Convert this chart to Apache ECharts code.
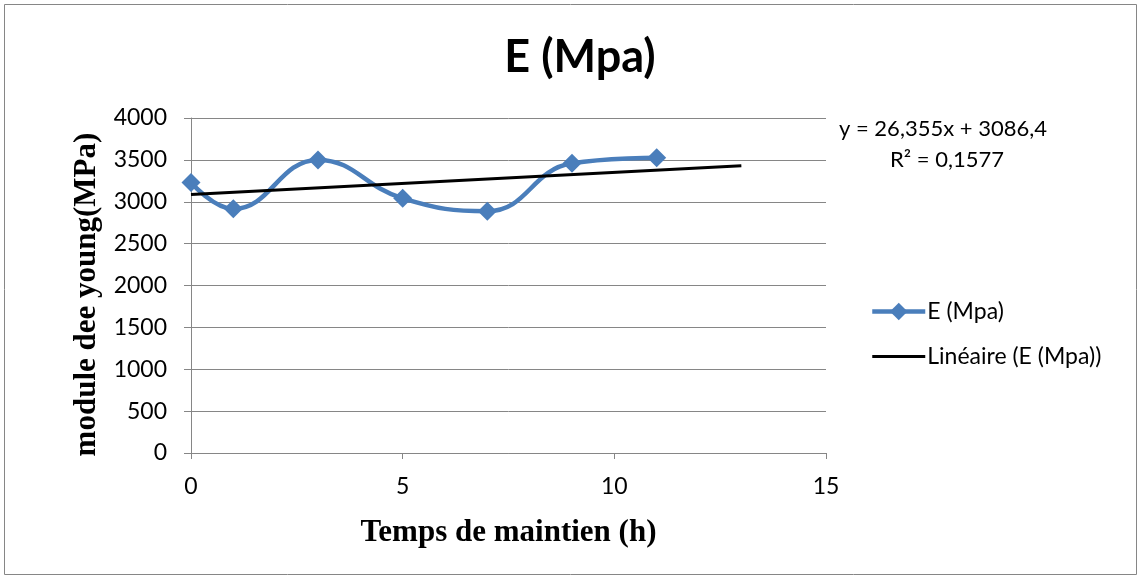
<!DOCTYPE html>
<html><head><meta charset="utf-8">
<script src="https://cdn.jsdelivr.net/npm/echarts@6/dist/echarts.min.js"></script>
<style>html,body{margin:0;padding:0;background:#fff}#c{width:1141px;height:579px}</style>
</head><body><div id="c"></div>
<script>
const hours = [0, 1, 3, 5, 7, 9, 11];
const modulus = [3229, 2915, 3500, 3041, 2888, 3459, 3524];
const trendSlope = [26.355];
const trendIntercept = [3086.4];
const trendRange = [0, 13];
const trendLabels = ['y = 26,355x + 3086,4', 'R² = 0,1577'];
const yTicks = [0, 4000, 500];
const xTicks = [0, 15, 5];

const mainData = hours.map((h, i) => [h, modulus[i]]);
const trendData = trendRange.map(x => [x, trendSlope[0] * x + trendIntercept[0]]);

const chart = echarts.init(document.getElementById('c'));
const axisGray = '#868686';
const blue = '#4A7EBB';
chart.setOption({
  animation: false,
  backgroundColor: '#fff',
  title: {
    text: 'E (Mpa)', left: 575, top: 30, textAlign: 'center',
    textStyle: { fontFamily: 'Lato', fontWeight: 'bold', fontSize: 45, color: '#000' }
  },
  grid: { left: 191, right: 315, top: 118, bottom: 126 },
  xAxis: {
    type: 'value', min: xTicks[0], max: xTicks[1], interval: xTicks[2],
    name: 'Temps de maintien (h)', nameLocation: 'middle', nameGap: 64,
    nameTextStyle: { fontFamily: 'Liberation Serif', fontWeight: 'bold', fontSize: 31, color: '#000' },
    axisLine: { show: true, lineStyle: { color: axisGray, width: 1 } },
    axisTick: { show: true, length: 6, lineStyle: { color: axisGray } },
    axisLabel: { fontFamily: 'Lato', fontSize: 23, color: '#000', margin: 22 },
    splitLine: { show: false }
  },
  yAxis: {
    type: 'value', min: yTicks[0], max: yTicks[1], interval: yTicks[2],
    name: 'module dee young(MPa)', nameLocation: 'middle', nameGap: 84, nameRotate: 90,
    nameTextStyle: { fontFamily: 'Liberation Serif', fontWeight: 'bold', fontSize: 31, color: '#000', padding: [0, 18, 0, 0] },
    axisLine: { show: true, lineStyle: { color: axisGray, width: 1 } },
    axisTick: { show: true, length: 7, lineStyle: { color: axisGray } },
    axisLabel: { fontFamily: 'Lato', fontSize: 23, color: '#000', margin: 24, formatter: v => String(v) },
    splitLine: { show: true, lineStyle: { color: axisGray, width: 1 } }
  },
  legend: {
    orient: 'vertical', left: 865, top: 295, itemGap: 22, itemWidth: 53, itemHeight: 22,
    textStyle: { fontFamily: 'Lato', fontSize: 23, color: '#000', padding: [0, 0, 0, -3] },
    data: [
      { name: 'E (Mpa)', lineStyle: { color: blue, width: 4.5 }, itemStyle: { color: blue } },
      { name: 'Linéaire (E (Mpa))', lineStyle: { color: '#000', width: 3 }, itemStyle: { opacity: 0 } }
    ]
  },
  series: [
    {
      name: 'E (Mpa)', type: 'line', data: mainData, smooth: 0.45,
      symbol: 'diamond', symbolSize: 19,
      lineStyle: { color: blue, width: 4.5 },
      itemStyle: { color: blue }, z: 2
    },
    {
      name: 'Linéaire (E (Mpa))', type: 'line', data: trendData,
      symbol: 'none', lineStyle: { color: '#000', width: 3 },
      itemStyle: { color: '#000' }, z: 3
    }
  ],
  graphic: [
    { type: 'rect', shape: { x: 4.5, y: 4.5, width: 1132, height: 570 },
      style: { fill: 'none', stroke: '#868686', lineWidth: 1 }, z: -1 },
    { type: 'text', left: 839, top: 118,
      style: { text: trendLabels[0], font: '22px Lato', fill: '#000' } },
    { type: 'text', left: 890, top: 149,
      style: { text: trendLabels[1], font: '22px Lato', fill: '#000' } }
  ]
});
</script></body></html>
